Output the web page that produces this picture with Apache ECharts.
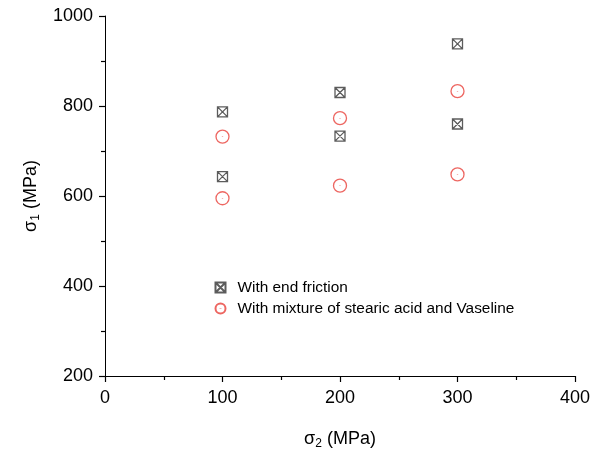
<!DOCTYPE html>
<html>
<head>
<meta charset="utf-8">
<script src="https://cdn.jsdelivr.net/npm/echarts@6/dist/echarts.min.js"></script>
<style>
  html, body { margin: 0; padding: 0; background: #fff; }
  #main { width: 604px; height: 450px; }
</style>
</head>
<body>
<div id="main"></div>
<script>
// sigma_2 (MPa) and sigma_1 (MPa)
var frictionX = [100, 100, 200, 200, 300, 300]
var frictionY = [787, 643, 830, 733, 938, 760]
var vaselineX = [100, 100, 200, 200, 300, 300]
var vaselineY = [732, 595, 773, 623, 833, 648]
var seriesNames = ['With end friction', 'With mixture of stearic acid and Vaseline']

var font = '"Liberation Sans", Arial, sans-serif'
var boxCross = 'path://M0,0L10,0L10,10L0,10Z M0,0L10,10 M10,0L0,10'
var dotCircle = 'path://M10,5A5,5,0,1,1,0,5A5,5,0,1,1,10,5Z M5,4.8L5,5.2'

function pairs(xs, ys) {
    return xs.map(function (x, i) { return [x, ys[i]] })
}

function axisOpts() {
    return {
        axisLine: { show: true, lineStyle: { color: '#000', width: 1 } },
        axisTick: { show: true, inside: false, length: 6, lineStyle: { color: '#000', width: 1.2 } },
        minorTick: { show: true, splitNumber: 2, length: 4, lineStyle: { color: '#000', width: 1.2 } },
        splitLine: { show: false },
        nameTextStyle: {
            color: '#000',
            fontFamily: font,
            rich: {
                a: { fontSize: 18, fontFamily: font, color: '#000' },
                s: { fontSize: 12, fontFamily: font, color: '#000', padding: [10, 0, 0, 0] }
            }
        }
    }
}

var chart = echarts.init(document.getElementById('main'))

chart.setOption({
    backgroundColor: '#fff',
    animation: false,
    grid: { left: 105, right: 29, top: 16, bottom: 74, containLabel: false, outerBoundsMode: 'none' },
    legend: {
        orient: 'vertical',
        left: 208,
        top: 275,
        itemWidth: 10,
        itemHeight: 10,
        itemGap: 6,
        textStyle: { color: '#000', fontSize: 15.4, fontFamily: font, padding: [0, 0, 0, 7] },
        data: seriesNames
    },
    xAxis: Object.assign(axisOpts(), {
        type: 'value',
        min: 0,
        max: 400,
        interval: 100,
        name: '{a|σ}{s|2}{a| (MPa)}',
        nameLocation: 'middle',
        nameGap: 52,
        axisLabel: { color: '#000', fontSize: 18, fontFamily: font, margin: 13 }
    }),
    yAxis: Object.assign(axisOpts(), {
        type: 'value',
        min: 200,
        max: 1000,
        interval: 200,
        name: '{a|σ}{s|1}{a| (MPa)}',
        nameLocation: 'middle',
        nameGap: 60,
        axisLabel: {
            color: '#000', fontSize: 18, fontFamily: font, margin: 12,
            formatter: function (v) { return String(v) }
        }
    }),
    series: [
        {
            name: seriesNames[0],
            type: 'scatter',
            symbol: boxCross,
            symbolSize: 10,
            itemStyle: { color: 'none', borderColor: '#333', borderWidth: 1.3 },
            data: pairs(frictionX, frictionY)
        },
        {
            name: seriesNames[1],
            type: 'scatter',
            symbol: dotCircle,
            symbolSize: 13,
            itemStyle: { color: 'none', borderColor: '#e8403a', borderWidth: 1.3 },
            data: pairs(vaselineX, vaselineY)
        }
    ]
})
</script>
</body>
</html>
